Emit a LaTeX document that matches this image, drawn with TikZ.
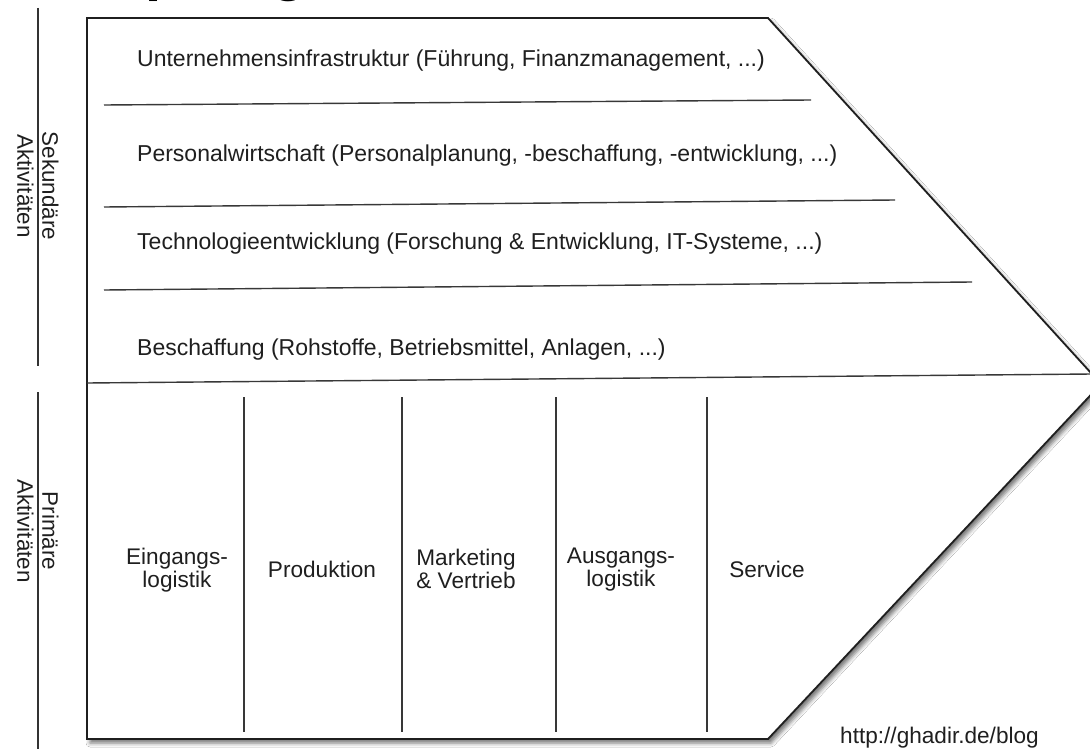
\documentclass[tikz,border=0pt]{standalone}
\usepackage{fontspec}
\setmainfont{Liberation Sans}
\usetikzlibrary{shadows.blur}
\begin{document}
\begin{tikzpicture}[x=1pt,y=-1pt,
  lbl/.style={inner sep=0pt, font=\fontsize{22.6}{23}\selectfont, text=black!88},
  rowlbl/.style={lbl, anchor=base west, font=\fontsize{23}{24}\selectfont},
  plbl/.style={lbl, align=center},
  side/.style={inner sep=0pt, font=\fontsize{22.4}{25}\selectfont, rotate=-90, align=center, text=black!88},
  frame/.style={draw=black!88, line width=1.8pt, fill=white,
    blur shadow={shadow xshift=3pt, shadow yshift=-4pt, shadow blur radius=4pt, shadow opacity=55}},
  sepline/.style={draw=black!78, line width=1.4pt},
  bracket/.style={draw=black!80, line width=1.2pt},
  ]
\useasboundingbox (0,0) rectangle (1090,749);
\clip (0,0) rectangle (1090,749);
\fill[white] (0,0) rectangle (1090,749);

% title (cut off at the top)
\node[inner sep=0pt, anchor=base west, font=\bfseries\fontsize{58}{60}\selectfont] (title) at (-118,-10) {Wertschöpfungskette};

% side brackets
\draw[bracket] (38,8) -- (38,366);
\draw[bracket] (38,392) -- (38,752);
\node[side] (sek) at (38,186) {Sekundäre\\Aktivitäten};
\node[side] (prim) at (38,531) {Primäre\\Aktivitäten};

% main chevron
\path[frame] (87,18) -- (768,18) -- (1101,384) -- (768,739) -- (87,739) -- cycle;

% secondary separators
\draw[sepline] (104,105) -- (811,100);
\draw[sepline] (104,207) -- (895,200);
\draw[sepline] (104,290) -- (972,282);
\draw[sepline] (87,383) -- (1092,374);

% primary separators
\foreach \xx in {244,402,556,707}
  \draw[sepline] (\xx,397) -- (\xx,732);

% secondary labels
\node[rowlbl] (infra) at (137,67) {Unternehmensinfrastruktur (Führung, Finanzmanagement, ...)};
\node[rowlbl] (personal) at (137,162) {Personalwirtschaft (Personalplanung, -beschaffung, -entwicklung, ...)};
\node[rowlbl] (tech) at (137,249) {Technologieentwicklung (Forschung \& Entwicklung, IT-Systeme, ...)};
\node[rowlbl] (besch) at (137,355) {Beschaffung (Rohstoffe, Betriebsmittel, Anlagen, ...)};

% primary labels
\node[plbl] (ein) at (177,570) {Eingangs-\\logistik};
\node[lbl, anchor=base] (prod) at (322,577) {Produktion};
\node[plbl] (mark) at (466,569) {Marketing\\\& Vertrieb};
\node[plbl] (aus) at (621,570) {Ausgangs-\\logistik};
\node[lbl, anchor=base] (serv) at (767,577) {Service};

% url
\node[lbl, anchor=base west] (url) at (840,743) {http://ghadir.de/blog};
\end{tikzpicture}
\end{document}
